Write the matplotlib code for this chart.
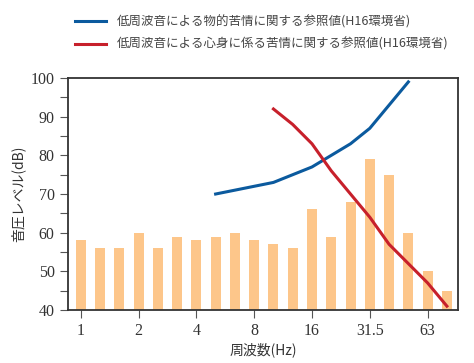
import numpy as np
import matplotlib
matplotlib.use('Agg')
import matplotlib.pyplot as plt
from matplotlib.ticker import MultipleLocator

plt.rcParams['font.family'] = ['Noto Sans CJK JP', 'DejaVu Sans']

# 1/3 octave band centre frequencies (Hz)
freqs = ['1', '1.25', '1.6', '2', '2.5', '3.15', '4', '5', '6.3', '8',
         '10', '12.5', '16', '20', '25', '31.5', '40', '50', '63', '80']
levels = [58, 56, 56, 60, 56, 59, 58, 59, 60, 58,
          57, 56, 66, 59, 68, 79, 75, 60, 50, 45]

phys_freqs = ['5', '6.3', '8', '10', '12.5', '16', '20', '25', '31.5', '40', '50']
phys_vals = [70, 71, 72, 73, 75, 77, 80, 83, 87, 93, 99]

mind_freqs = ['10', '12.5', '16', '20', '25', '31.5', '40', '50', '63', '80']
mind_vals = [92, 88, 83, 76, 70, 64, 57, 52, 47, 41]

tick_labels = ['1', '2', '4', '8', '16', '31.5', '63']

lbl_phys = '低周波音による物的苦情に関する参照値(H16環境省)'
lbl_mind = '低周波音による心身に係る苦情に関する参照値(H16環境省)'

pos = {f: i for i, f in enumerate(freqs)}

fig = plt.figure(figsize=(4.74, 3.63), dpi=100)
ax = fig.add_axes([0.143, 0.146, 0.823, 0.639])

ax.bar([pos[f] for f in freqs], [v - 40 for v in levels], bottom=40,
       width=0.52, color='#FDC68A', zorder=1)
l1, = ax.plot([pos[f] for f in phys_freqs], phys_vals, color='#0B5A9E', lw=2.2, zorder=3)
l2, = ax.plot([pos[f] for f in mind_freqs], mind_vals, color='#C7202B', lw=2.2, zorder=3)

ax.set_xlim(-0.67, 19.57)
ax.set_ylim(40, 100)
ax.yaxis.set_major_locator(MultipleLocator(10))
ax.yaxis.set_minor_locator(MultipleLocator(5))
ax.set_xticks([pos[t] for t in tick_labels])
ax.set_xticklabels(tick_labels)
for lab in ax.get_xticklabels() + ax.get_yticklabels():
  lab.set_family('Liberation Serif')
  lab.set_fontsize(11.5)
  lab.set_color('#333333')
ax.tick_params(axis='both', which='major', length=6, width=0.8, color='#555555')
ax.tick_params(axis='y', which='minor', length=6, width=0.8, color='#555555')
for s in ax.spines.values():
  s.set_color('#333333')
  s.set_linewidth(1.3)

ax.set_xlabel('周波数(Hz)', fontsize=10, color='#333333', labelpad=2)
ax.set_ylabel('音圧レベル(dB)', fontsize=10, color='#333333', labelpad=4)

fig.legend([l1, l2], [lbl_phys, lbl_mind], loc='upper left',
           bbox_to_anchor=(0.135, 0.99), frameon=False, fontsize=9,
           handlelength=2.5, labelspacing=0.75, labelcolor='#444444')

fig.savefig('out.png', dpi=100)
